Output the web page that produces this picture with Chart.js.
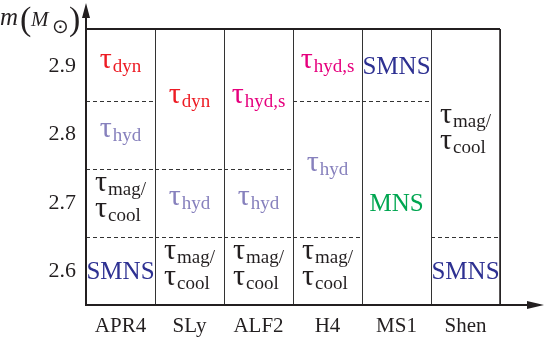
<!DOCTYPE html>
<html>
<head>
<meta charset="utf-8">
<script src="https://cdn.jsdelivr.net/npm/chart.js@4.4.1/dist/chart.umd.min.js"></script>
<style>
  html, body { margin: 0; padding: 0; background: #fff; }
  #wrap { width: 545px; height: 339px; }
</style>
</head>
<body>
<div id="wrap"><canvas id="eosChart"></canvas></div>
<script>
const eosNames = ["APR4", "SLy", "ALF2", "H4", "MS1", "Shen"];
const massTicks = [2.6, 2.7, 2.8, 2.9];

// dashed boundaries between regimes, per column
const dashColumn = [0, 0, 0, 1, 1, 2, 2, 3, 3, 4, 5];
const dashMass = [2.85, 2.75, 2.65, 2.75, 2.65, 2.75, 2.65, 2.85, 2.65, 2.85, 2.65];

// regime labels
const labelColumn = [0, 0, 0, 0, 1, 1, 1, 2, 2, 2, 3, 3, 3, 4, 4, 5, 5];
const labelMass = [2.90, 2.80, 2.70, 2.60, 2.85, 2.70, 2.60, 2.85, 2.70, 2.60, 2.90, 2.75, 2.60, 2.90, 2.70, 2.80, 2.60];
const labelKind = ["dyn", "hyd", "magcool", "SMNS", "dyn", "hyd", "magcool", "hyds", "hyd", "magcool",
                   "hyds", "hyd", "magcool", "SMNS", "MNS", "magcool", "SMNS"];

const serif = "'Liberation Serif', 'Times New Roman', serif";
const kindColor = {
    dyn: "#ed1c24",
    hyds: "#e6007e",
    hyd: "#8781bd",
    magcool: "#231f20",
    SMNS: "#2e3192",
    MNS: "#00a651"
};

Chart.defaults.font.family = serif;
Chart.defaults.color = "#231f20";

const tauSize = 30, subSize = 19;

function drawTau(ctx, x0, base, sub, color) {
    ctx.fillStyle = color;
    ctx.font = tauSize + "px " + serif;
    ctx.fillText("\u03c4", x0, base);
    const w = ctx.measureText("\u03c4").width;
    ctx.font = subSize + "px " + serif;
    ctx.fillText(sub, x0 + w + 1, base + 4);
}

function tauWidth(ctx, sub) {
    ctx.font = tauSize + "px " + serif;
    const w = ctx.measureText("\u03c4").width;
    ctx.font = subSize + "px " + serif;
    return w + 1 + ctx.measureText(sub).width;
}

const regimePlugin = {
    id: "regimes",
    afterDatasetsDraw(chart) {
        const ctx = chart.ctx;
        const xs = chart.scales.x;
        const ys = chart.scales.y;
        const half = (chart.chartArea.right - chart.chartArea.left) / eosNames.length / 2;

        ctx.save();
        ctx.strokeStyle = "#333";
        ctx.lineWidth = 1;
        ctx.setLineDash([4, 3]);
        dashColumn.forEach((c, i) => {
            const cx = xs.getPixelForValue(c);
            const y = Math.round(ys.getPixelForValue(dashMass[i])) + 0.5;
            ctx.beginPath();
            ctx.moveTo(cx - half, y);
            ctx.lineTo(cx + half, y);
            ctx.stroke();
        });
        ctx.setLineDash([]);

        const meta = chart.getDatasetMeta(0);
        ctx.textBaseline = "alphabetic";
        ctx.textAlign = "left";
        meta.data.forEach((pt, i) => {
            const kind = labelKind[i];
            const color = kindColor[kind];
            const cx = pt.x, cy = pt.y;
            if (kind === "SMNS" || kind === "MNS") {
                ctx.font = "25px " + serif;
                ctx.fillStyle = color;
                ctx.textAlign = "center";
                ctx.fillText(kind, cx, cy + 8);
                ctx.textAlign = "left";
            } else if (kind === "magcool") {
                const w = Math.max(tauWidth(ctx, "mag/"), tauWidth(ctx, "cool"));
                const x0 = cx - w / 2;
                drawTau(ctx, x0, cy - 12, "mag/", color);
                drawTau(ctx, x0, cy + 14, "cool", color);
            } else {
                const sub = kind === "dyn" ? "dyn" : (kind === "hyds" ? "hyd,s" : "hyd");
                const w = tauWidth(ctx, sub);
                drawTau(ctx, cx - w / 2, cy + 2, sub, color);
            }
        });
        ctx.restore();
    },
    afterDraw(chart) {
        const ctx = chart.ctx;
        const a = chart.chartArea;
        ctx.save();
        ctx.strokeStyle = "#231f20";
        ctx.fillStyle = "#231f20";
        ctx.lineWidth = 2;
        // box top + right
        ctx.beginPath();
        ctx.moveTo(a.left, a.top);
        ctx.lineTo(a.right, a.top);
        ctx.stroke();
        ctx.lineWidth = 1.5;
        ctx.beginPath();
        ctx.moveTo(a.right, a.top);
        ctx.lineTo(a.right, a.bottom);
        ctx.stroke();
        // y axis with arrow
        ctx.lineWidth = 2;
        ctx.beginPath();
        ctx.moveTo(a.left, a.bottom);
        ctx.lineTo(a.left, 14);
        ctx.stroke();
        ctx.beginPath();
        ctx.moveTo(a.left, 3);
        ctx.lineTo(a.left - 4, 18);
        ctx.lineTo(a.left + 4, 18);
        ctx.closePath();
        ctx.fill();
        // x axis with arrow
        ctx.beginPath();
        ctx.moveTo(a.left - 1, a.bottom);
        ctx.lineTo(532, a.bottom);
        ctx.stroke();
        ctx.beginPath();
        ctx.moveTo(544, a.bottom);
        ctx.lineTo(527, a.bottom - 4);
        ctx.lineTo(527, a.bottom + 4);
        ctx.closePath();
        ctx.fill();

        // axis title m(M_sun)
        ctx.textBaseline = "alphabetic";
        ctx.textAlign = "left";
        ctx.font = "italic 25px " + serif;
        ctx.fillText("m", 0, 25);
        ctx.font = "34px " + serif;
        ctx.fillText("(", 20, 30);
        ctx.font = "italic 21px " + serif;
        ctx.fillText("M", 31, 26);
        ctx.font = "20px " + serif;
        ctx.fillText("\u2299", 52, 33);
        ctx.font = "34px " + serif;
        ctx.fillText(")", 69, 30);
        ctx.restore();
    }
};

new Chart(document.getElementById("eosChart"), {
    type: "line",
    data: {
        labels: eosNames,
        datasets: [{
            data: labelMass.map((m, i) => ({ x: eosNames[labelColumn[i]], y: m })),
            showLine: false,
            pointRadius: 0,
            pointHoverRadius: 0
        }]
    },
    options: {
        responsive: true,
        maintainAspectRatio: false,
        animation: false,
        events: [],
        layout: { padding: { top: 29, right: 45, left: 0, bottom: 0 } },
        plugins: { legend: { display: false }, tooltip: { enabled: false } },
        scales: {
            x: {
                type: "category",
                offset: true,
                grid: { display: true, offset: true, color: "#333", lineWidth: 1, drawTicks: false },
                border: { display: false },
                ticks: { font: { size: 21 }, color: "#231f20", padding: 9, maxRotation: 0 },
                afterFit: s => { s.height = 34; }
            },
            y: {
                type: "linear",
                min: 2.55,
                max: 2.955,
                grid: { display: false, drawTicks: false },
                border: { display: false },
                afterBuildTicks: s => { s.ticks = massTicks.map(v => ({ value: v })); },
                ticks: { font: { size: 22 }, color: "#231f20", padding: 10, callback: v => v.toFixed(1) },
                afterFit: s => { s.width = 86; }
            }
        }
    },
    plugins: [regimePlugin]
});
</script>
</body>
</html>
